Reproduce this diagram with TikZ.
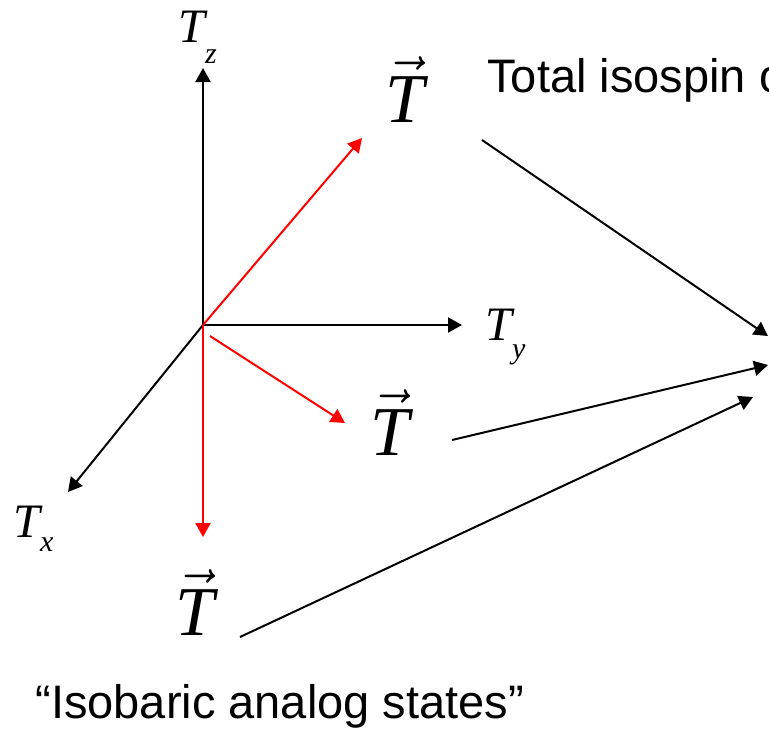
\documentclass[tikz,border=0pt]{standalone}
\usepackage{fix-cm}
\usepackage{fontspec}
\setmainfont{Liberation Serif}
\setsansfont{Liberation Sans}
\usetikzlibrary{arrows.meta}

\begin{document}
\begin{tikzpicture}[x=0.5pt, y=-0.5pt,
  >={Triangle[length=7pt, width=7.5pt]},
  axis/.style={->, draw=black, line width=1pt},
  spin/.style={->, draw=red, line width=1pt},
  link/.style={->, draw=black, line width=1pt},
  alab/.style={font=\fontsize{24}{28}\selectfont\itshape, anchor=base west, inner sep=0pt},
  vlab/.style={font=\fontsize{35}{40}\selectfont, anchor=base west, inner sep=0pt},
  txt/.style={font=\sffamily\fontsize{23.5}{28}\selectfont, anchor=base west, inner sep=0pt}]
\useasboundingbox (0,0) rectangle (769,730);
% axes
\coordinate (o) at (203,325);
\coordinate (ztip) at (203,68);
\coordinate (ytip) at (462,325);
\coordinate (xtip) at (68,492);
\draw[axis] (o) -- (ztip);
\draw[axis] (o) -- (ytip);
\draw[axis] (o) -- (xtip);
\node[alab] (tz) at (178,42) {T\raisebox{-10.5pt}{\fontsize{15}{17}\selectfont z}};
\node[alab] (ty) at (485,340) {T\raisebox{-9pt}{\fontsize{15}{17}\selectfont y}};
\node[alab] (tx) at (13,537) {T\raisebox{-7pt}{\fontsize{15}{17}\selectfont x}};
% isospin vectors
\coordinate (s2) at (210,336);
\coordinate (r1) at (362,138);
\coordinate (r2) at (345,423);
\coordinate (r3) at (203,537);
\draw[spin] (o) -- (r1);
\draw[spin] (s2) -- (r2);
\draw[spin] (o) -- (r3);
\node[vlab] (vt1) at (385,122) {$\vec{\textit{T}}$};
\node[vlab] (vt2) at (370,455) {$\vec{\textit{T}}$};
\node[vlab] (vt3) at (175,635) {$\vec{\textit{T}}$};
% texts
\node[txt] (total) at (487,92) {Total isospin o};
\node[txt] (ias) at (35,718) {“Isobaric analog states”};
% links
\coordinate (a1) at (482,140);
\coordinate (a2) at (452,440);
\coordinate (a3) at (240,637);
\coordinate (b1) at (768,336);
\coordinate (b2) at (768,365);
\coordinate (b3) at (753,397);
\draw[link] (a1) -- (b1);
\draw[link] (a2) -- (b2);
\draw[link] (a3) -- (b3);
\end{tikzpicture}
\end{document}
